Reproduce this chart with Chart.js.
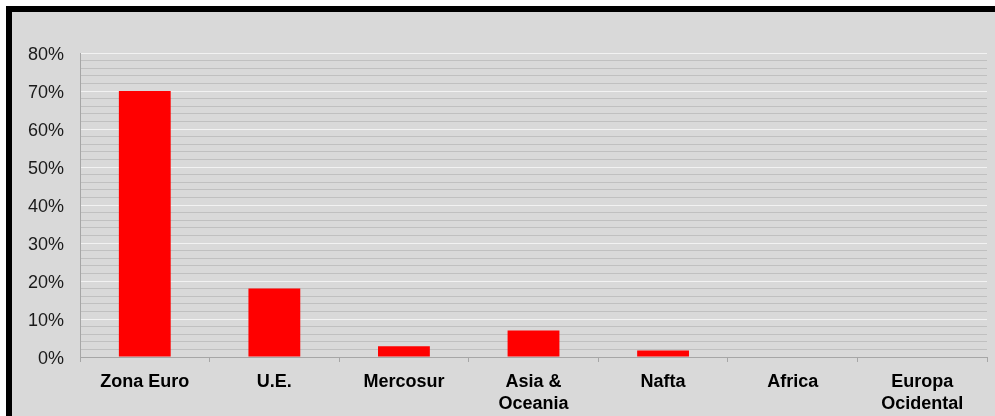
<!DOCTYPE html>
<html>
<head>
<meta charset="utf-8">
<script src="https://cdn.jsdelivr.net/npm/chart.js@4/dist/chart.umd.min.js"></script>
<style>
  html, body { margin: 0; padding: 0; background: #fff; }
  #frame {
    position: absolute; left: 6px; top: 6px;
    width: 983px; height: 404px;
    border-top: 6px solid #000; border-left: 6px solid #000;
    background: #d9d9d9;
  }
  canvas { display: block; }
</style>
</head>
<body>
<div id="frame"><canvas id="myChart" width="983" height="404"></canvas></div>
<script>
// datos
const regiones = ['Zona Euro', 'U.E.', 'Mercosur', ['Asia &', 'Oceania'], 'Nafta', 'Africa', ['Europa', 'Ocidental']]
const porcentajes = [70, 18, 2.8, 7, 1.7, 0, 0]
const yMax = 80
const yPaso = 2

const ctx = document.getElementById('myChart').getContext('2d')
const myChart = new Chart(ctx, {
  type: 'bar',
  data: {
    labels: regiones,
    datasets: [{
      data: porcentajes,
      backgroundColor: '#ff0000',
      borderWidth: 0,
      barPercentage: 0.4,
      categoryPercentage: 1
    }]
  },
  options: {
    responsive: false,
    animation: false,
    layout: { padding: { left: 0, top: 41, right: 8, bottom: 0 } },
    plugins: { legend: { display: false }, tooltip: { enabled: false } },
    scales: {
      x: {
        grid: {
          offset: true,
          drawOnChartArea: false,
          tickLength: 5,
          color: '#a6a6a6'
        },
        border: { color: '#a6a6a6', width: 1 },
        ticks: {
          maxRotation: 0,
          autoSkip: false,
          padding: 10,
          color: '#000',
          font: { family: 'Liberation Sans, Arial, sans-serif', size: 18, weight: 'bold', lineHeight: 1.17 }
        },
        afterFit: (scale) => { scale.height = 59 }
      },
      y: {
        min: 0,
        max: yMax,
        grid: {
          drawTicks: false,
          color: (c) => (c.tick && c.tick.value % 10 === 0) ? '#f2f2f2' : '#c0c0c0',
          lineWidth: 1
        },
        border: { color: '#a6a6a6', width: 1 },
        ticks: {
          stepSize: yPaso,
          autoSkip: false,
          maxTicksLimit: 100,
          padding: 16,
          labelOffset: 2,
          color: '#1a1a1a',
          font: { family: 'Liberation Sans, Arial, sans-serif', size: 18 },
          callback: (v) => v % 10 === 0 ? v + '%' : ''
        },
        afterFit: (scale) => { scale.width = 68 }
      }
    }
  }
})
</script>
</body>
</html>
